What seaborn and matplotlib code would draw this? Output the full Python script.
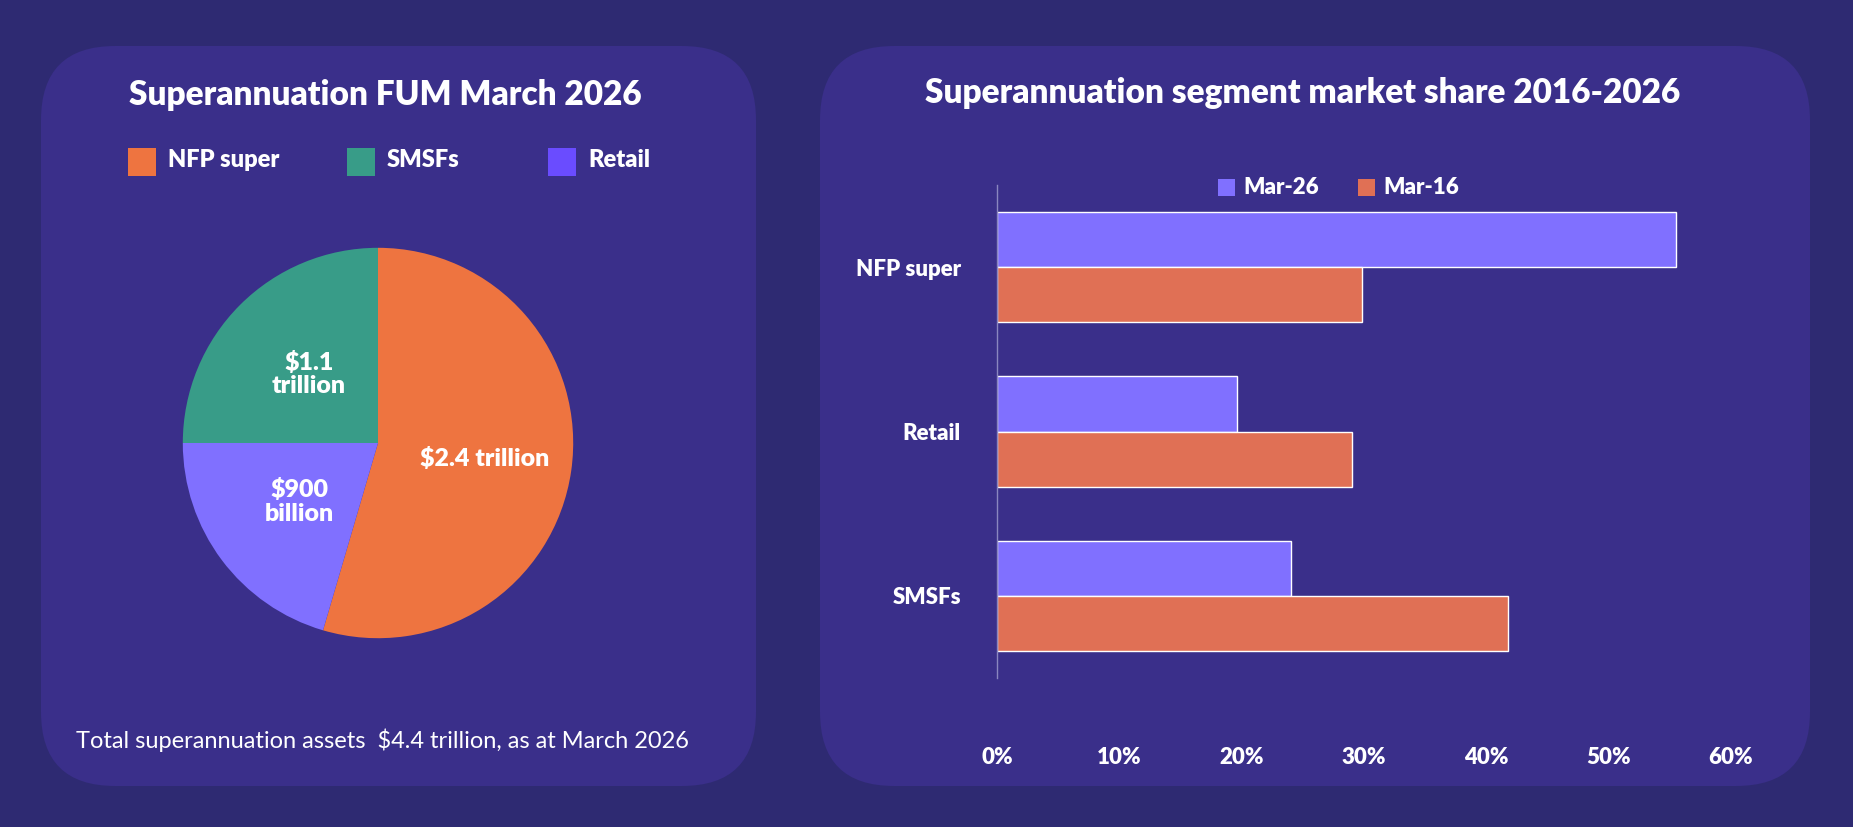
import matplotlib
matplotlib.use("Agg")
import matplotlib.pyplot as plt
import seaborn as sns
import pandas as pd
import numpy as np
from matplotlib.patches import FancyBboxPatch, Rectangle

sns.set_theme(style="white")
plt.rcParams['font.family'] = ['Lato', 'DejaVu Sans']

pie_labels = ["NFP super", "Retail", "SMSFs"]
pie_values = [2.4, 0.9, 1.1]
pie_texts = ["$2.4 trillion", "$900\nbillion", "$1.1\ntrillion"]
pie_colors = ["#ee7440", "#8070ff", "#389c88"]

bar_cats = ["NFP super", "Retail", "SMSFs"]
mar26 = [55.5, 19.6, 24.0]
mar16 = [29.8, 29.0, 41.8]
xticks = [0, 10, 20, 30, 40, 50, 60]

W, H = 1853, 827
fig = plt.figure(figsize=(W/100, H/100), dpi=100)
fig.patch.set_facecolor("#2e2a72")

def panel(x0, y0, x1, y1):
    p = FancyBboxPatch((x0/W, 1-y1/H), (x1-x0)/W, (y1-y0)/H,
                       boxstyle="round,pad=0,rounding_size=0.04",
                       transform=fig.transFigure, facecolor="#3a2f8a",
                       edgecolor="none", zorder=-5, mutation_aspect=W/H)
    fig.patches.append(p)
panel(41, 46, 756, 786)
panel(820, 46, 1810, 786)

# Pie
cx, cy, r = 378, 443, 244
axp = fig.add_axes([(cx-r)/W, 1-(cy+r)/H, 2*r/W, 2*r/H])
axp.set_zorder(5)
axp.patch.set_alpha(0)
wedges, _ = axp.pie(pie_values, colors=pie_colors, startangle=90, counterclock=False,
                    wedgeprops=dict(linewidth=0))
axp.set_aspect("equal")
for w, t in zip(wedges, pie_texts):
    th = np.deg2rad((w.theta1 + w.theta2) / 2)
    d = 0.55 if "2.4" in t else 0.5
    axp.text(d*np.cos(th), d*np.sin(th), t, ha="center", va="center",
             color="white", fontsize=18, fontweight="heavy", linespacing=1.1)
fig.text(385/W, 1-95/H, "Superannuation FUM March 2026", ha="center", va="center",
         color="white", fontsize=24, fontweight="heavy")
for name, col, x in [("NFP super", "#ee7440", 128), ("SMSFs", "#389c88", 347), ("Retail", "#6a4cff", 548)]:
    fig.add_artist(Rectangle((x/W, 1-176/H), 28/W, 28/H, transform=fig.transFigure,
                             facecolor=col, edgecolor="none", zorder=5))
    fig.text((x+40)/W, 1-160/H, name, color="white", fontsize=17, fontweight="heavy", va="center")
fig.text(382/W, 1-740/H, "Total superannuation assets  $4.4 trillion, as at March 2026",
         ha="center", va="center", color="white", fontsize=17)

# Bars
df = pd.DataFrame({"cat": bar_cats*2, "val": mar26+mar16,
                   "series": ["Mar-26"]*3 + ["Mar-16"]*3})
axb = fig.add_axes([997/W, 1-678/H, (1731-997)/W, (678-185)/H])
axb.set_zorder(5)
axb.patch.set_alpha(0)
sns.barplot(data=df, y="cat", x="val", hue="series", orient="h", ax=axb,
            palette={"Mar-26": "#8070ff", "Mar-16": "#e07055"}, width=0.67,
            saturation=1, legend=False)
axb.set_xlim(0, 60)
axb.set_xticks(xticks)
axb.set_xticklabels([f"{t}%" for t in xticks], color="white", fontsize=16, fontweight="heavy")
axb.set_yticklabels(bar_cats, color="white", fontsize=16, fontweight="heavy")
axb.tick_params(length=0, pad=26)
axb.tick_params(axis="x", pad=50)
axb.set_xlabel(""); axb.set_ylabel("")
for s in ["top", "right", "bottom"]:
    axb.spines[s].set_visible(False)
axb.spines["left"].set_color("#8a86c0")
axb.spines["left"].set_linewidth(1)
fig.text(1303/W, 1-93/H, "Superannuation segment market share 2016-2026", ha="center",
         va="center", color="white", fontsize=24, fontweight="heavy")
for name, col, x in [("Mar-26", "#8070ff", 1218), ("Mar-16", "#e07055", 1358)]:
    fig.add_artist(Rectangle((x/W, 1-196/H), 17/W, 17/H, transform=fig.transFigure,
                             facecolor=col, edgecolor="none", zorder=5))
    fig.text((x+25)/W, 1-187/H, name, color="white", fontsize=16, fontweight="heavy", va="center")

fig.savefig("out.png", dpi=100, facecolor=fig.get_facecolor())
